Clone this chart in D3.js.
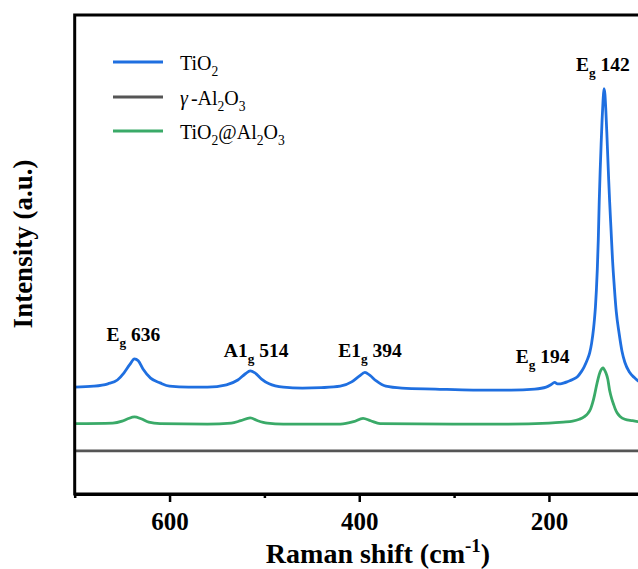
<!DOCTYPE html>
<html>
<head>
<meta charset="utf-8">
<script src="https://cdn.jsdelivr.net/npm/d3@7/dist/d3.min.js"></script>
<style>
  body { margin: 0; background: #fff; }
</style>
</head>
<body>
<svg id="chart"></svg>
<script>
// Raman spectra (intensity in arbitrary units, 0-100)
var shiftTiO2 = [700, 680, 665, 655, 648, 642, 637, 633, 628, 620, 610, 600, 580, 560, 540, 528, 520, 515, 510, 503, 495, 480, 460, 440, 420, 408, 400, 394, 389, 382, 372, 355, 320, 280, 240, 215, 203, 198, 194, 191, 188, 184, 180, 175, 170, 166, 163, 160, 157, 155, 153, 152, 151, 150, 149, 148, 147, 146, 145, 144, 143, 142, 141, 140, 139, 138, 137, 136, 134.5, 133, 131, 129, 126, 123, 120, 115, 110, 106, 100];
var intTiO2 = [22.3, 22.5, 23.0, 23.8, 25.3, 27.0, 28.2, 27.8, 26.1, 24.2, 23.2, 22.5, 22.3, 22.3, 22.8, 23.8, 25.1, 25.7, 25.3, 24.0, 23.0, 22.3, 22.1, 22.2, 22.5, 23.4, 24.6, 25.4, 24.8, 23.6, 22.5, 22.1, 21.9, 21.7, 21.7, 21.9, 22.3, 22.8, 23.3, 23.0, 23.0, 23.2, 23.5, 23.9, 24.5, 25.5, 26.5, 27.8, 29.5, 31.5, 34.5, 36.5, 39.0, 42.5, 47.0, 53.0, 61.0, 67.5, 73.0, 78.0, 82.0, 84.6, 83.5, 80.0, 75.5, 70.5, 65.5, 61.0, 55.0, 49.0, 43.0, 38.0, 33.5, 29.8, 27.5, 25.4, 24.3, 23.6, 23.0];

var shiftAl2O3 = [700, 600, 500, 400, 300, 200, 100];
var intAl2O3 = [9.0, 9.0, 9.0, 9.0, 9.0, 9.0, 9.0];

var shiftComposite = [700, 660, 650, 644, 637, 630, 622, 610, 560, 535, 525, 515, 507, 497, 480, 420, 406, 396, 388, 378, 300, 250, 200, 185, 175, 168, 163, 159, 156, 154, 152, 150, 148, 146, 144, 143, 142, 140, 138, 136, 134, 132, 130, 128, 125, 120, 112, 106, 100];
var intComposite = [14.7, 14.8, 15.2, 15.7, 16.1, 15.7, 15.0, 14.7, 14.6, 14.8, 15.3, 15.9, 15.3, 14.8, 14.6, 14.6, 15.1, 15.8, 15.3, 14.7, 14.6, 14.6, 14.8, 15.0, 15.2, 15.6, 16.1, 16.8, 17.8, 19.0, 20.6, 22.5, 24.2, 25.5, 26.2, 26.3, 26.1, 25.3, 24.0, 21.6, 20.0, 18.8, 17.7, 16.9, 16.2, 15.6, 15.3, 15.1, 15.0];

var seriesNames = ['TiO2', 'γ-Al2O3', 'TiO2@Al2O3'];
var seriesColors = ['#1f6fe0', '#555555', '#3aaa68'];

var peakShift = [636, 514, 394, 194, 142];
var peakMode = ['Eg', 'A1g', 'E1g', 'Eg', 'Eg'];

var xTicks = [600, 400, 200];
var xMinorTicks = [700, 500, 300];

var width = 638, height = 569;
var margin = { left: 74.7, top: 15, bottom: 75 };
var plotRight = 643.8;
var serif = '"Liberation Serif", "Times New Roman", Times, serif';

var svg = d3.select('#chart')
    .attr('width', width)
    .attr('height', height)
    .attr('font-family', serif);

var x = d3.scaleLinear()
    .domain([700, 100])
    .range([margin.left, plotRight]);

var y = d3.scaleLinear()
    .domain([0, 100])
    .range([height - margin.bottom, margin.top]);

// writes labels with sub/superscripts and italics as tspans
function richText(textSel, parts, fontSize) {
    var current = 0;
    parts.forEach(function (p) {
        var target = p.sub ? fontSize * 0.3 : (p.sup ? -fontSize * 0.4 : 0);
        var ts = textSel.append('tspan')
            .attr('dy', target - current)
            .text(p.t);
        if (p.sub || p.sup) ts.attr('font-size', fontSize * 0.68);
        if (p.it) ts.attr('font-style', 'italic');
        if (p.dx) ts.attr('dx', p.dx);
        current = target;
    });
}

function chemParts(name) {
    var parts = [];
    name.split(/(\d|γ)/).forEach(function (s) {
        if (s === '') return;
        if (/\d/.test(s)) parts.push({ t: s, sub: true });
        else if (s === 'γ') parts.push({ t: s, it: true });
        else parts.push({ t: s, dx: parts.length && parts[parts.length - 1].it ? 3 : 0 });
    });
    return parts;
}

svg.append('defs').append('clipPath').attr('id', 'plotClip')
    .append('rect')
    .attr('x', margin.left)
    .attr('y', margin.top)
    .attr('width', plotRight - margin.left)
    .attr('height', height - margin.bottom - margin.top);

var line = d3.line()
    .x(function (d) { return x(d[0]); })
    .y(function (d) { return y(d[1]); })
    .curve(d3.curveMonotoneX);

var series = [
    d3.zip(shiftTiO2, intTiO2),
    d3.zip(shiftAl2O3, intAl2O3),
    d3.zip(shiftComposite, intComposite)
];

var plot = svg.append('g').attr('clip-path', 'url(#plotClip)');
plot.selectAll('path.spec')
    .data(series)
    .enter()
    .append('path')
    .attr('class', 'spec')
    .attr('d', line)
    .attr('fill', 'none')
    .attr('stroke', function (d, i) { return seriesColors[i]; })
    .attr('stroke-width', 2.8)
    .attr('stroke-linejoin', 'round');

// frame
svg.append('rect')
    .attr('x', margin.left)
    .attr('y', margin.top)
    .attr('width', plotRight - margin.left)
    .attr('height', height - margin.bottom - margin.top)
    .attr('fill', 'none')
    .attr('stroke', '#000')
    .attr('stroke-width', 3);

// bottom axis
var xAxis = svg.append('g')
    .attr('transform', 'translate(0,' + (height - margin.bottom) + ')')
    .call(d3.axisBottom(x).tickValues(xTicks).tickSize(8).tickSizeOuter(0));
xAxis.attr('font-family', serif);
xAxis.select('.domain').attr('stroke-width', 3);
xAxis.selectAll('.tick line').attr('stroke-width', 2.5);
xAxis.selectAll('.tick text')
    .attr('y', 36)
    .attr('dy', 0)
    .attr('font-size', 25)
    .attr('font-weight', 'bold')
    .attr('font-family', serif)
    .attr('fill', '#000');

svg.append('g')
    .attr('transform', 'translate(0,' + (height - margin.bottom) + ')')
    .call(d3.axisBottom(x).tickValues(xMinorTicks).tickSize(4).tickSizeOuter(0).tickFormat(''))
    .call(function (g) { g.select('.domain').remove(); })
    .selectAll('.tick line').attr('stroke-width', 2.5);

// axis titles
var xTitle = svg.append('text')
    .attr('x', 378)
    .attr('y', 563)
    .attr('text-anchor', 'middle')
    .attr('font-family', serif)
    .attr('font-size', 28)
    .attr('font-weight', 'bold');
richText(xTitle, [{ t: 'Raman shift (cm' }, { t: '-1', sup: true }, { t: ')' }], 28);

svg.append('text')
    .attr('transform', 'translate(32,244) rotate(-90)')
    .attr('text-anchor', 'middle')
    .attr('font-family', serif)
    .attr('font-size', 27)
    .attr('font-weight', 'bold')
    .text('Intensity (a.u.)');

// legend
var legendY = [62, 97, 131];
var legend = svg.selectAll('g.legend')
    .data(seriesNames)
    .enter()
    .append('g')
    .attr('class', 'legend')
    .attr('transform', function (d, i) { return 'translate(113,' + legendY[i] + ')'; });

legend.append('line')
    .attr('x1', 0)
    .attr('x2', 50)
    .attr('stroke', function (d, i) { return seriesColors[i]; })
    .attr('stroke-width', 3);

legend.append('text')
    .attr('x', 67)
    .attr('y', 8)
    .attr('font-family', serif)
    .attr('font-size', 20)
    .each(function (d) { richText(d3.select(this), chemParts(d), 20); });

// peak labels
var labelOffset = [[-2, 341], [5, 356.7], [5, 356.7], [-12, 363.3], [-1, 70.7]];
svg.selectAll('text.peak')
    .data(peakShift)
    .enter()
    .append('text')
    .attr('class', 'peak')
    .attr('x', function (d, i) { return x(d) + labelOffset[i][0]; })
    .attr('y', function (d, i) { return labelOffset[i][1]; })
    .attr('text-anchor', 'middle')
    .attr('font-family', serif)
    .attr('font-size', 19.5)
    .attr('font-weight', 'bold')
    .each(function (d, i) {
        var m = peakMode[i];
        richText(d3.select(this), [
            { t: m.slice(0, -1) },
            { t: m.slice(-1), sub: true },
            { t: ' ' + d }
        ], 19.5);
    });
</script>
</body>
</html>
